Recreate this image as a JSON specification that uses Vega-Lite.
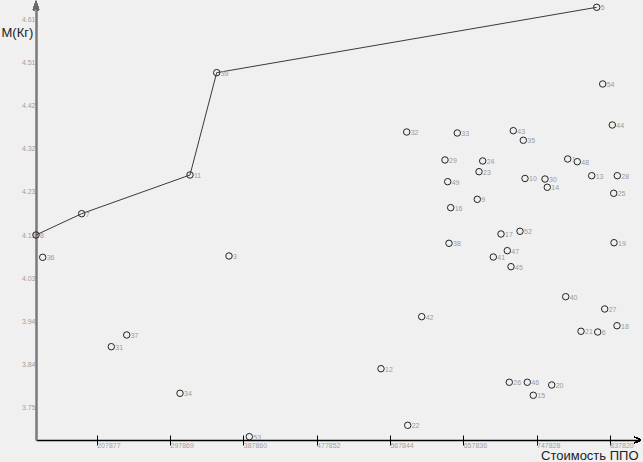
{
  "$schema": "https://vega.github.io/schema/vega-lite/v6.json",
  "width": 604,
  "height": 435,
  "autosize": {"type": "none"},
  "padding": {"left": 36, "top": 5, "right": 3, "bottom": 22},
  "background": "#f0f0f0",
  "config": {"view": {"stroke": null}, "font": "Liberation Sans"},
  "data": {
    "values": [
      {"n": "8", "x": 133356, "y": 4.1327, "p": 1},
      {"n": "7", "x": 189461, "y": 4.1798, "p": 2},
      {"n": "11", "x": 322421, "y": 4.2654, "p": 3},
      {"n": "39", "x": 355201, "y": 4.4917, "p": 4},
      {"n": "5", "x": 821727, "y": 4.6363, "p": 5},
      {"n": "36", "x": 141581, "y": 4.0833, "p": 0},
      {"n": "3", "x": 370302, "y": 4.0862, "p": 0},
      {"n": "37", "x": 244708, "y": 3.9115, "p": 0},
      {"n": "31", "x": 225801, "y": 3.8856, "p": 0},
      {"n": "34", "x": 310144, "y": 3.7825, "p": 0},
      {"n": "53", "x": 395224, "y": 3.6865, "p": 0},
      {"n": "32", "x": 588464, "y": 4.3605, "p": 0},
      {"n": "33", "x": 650586, "y": 4.3583, "p": 0},
      {"n": "43", "x": 719337, "y": 4.3634, "p": 0},
      {"n": "35", "x": 731614, "y": 4.3422, "p": 0},
      {"n": "29", "x": 635485, "y": 4.2986, "p": 0},
      {"n": "24", "x": 681769, "y": 4.2964, "p": 0},
      {"n": "23", "x": 677227, "y": 4.2727, "p": 0},
      {"n": "49", "x": 638800, "y": 4.2506, "p": 0},
      {"n": "10", "x": 733701, "y": 4.2577, "p": 0},
      {"n": "9", "x": 675140, "y": 4.2116, "p": 0},
      {"n": "16", "x": 642483, "y": 4.1931, "p": 0},
      {"n": "17", "x": 704236, "y": 4.1349, "p": 0},
      {"n": "52", "x": 727562, "y": 4.1409, "p": 0},
      {"n": "38", "x": 640396, "y": 4.1143, "p": 0},
      {"n": "47", "x": 711971, "y": 4.098, "p": 0},
      {"n": "41", "x": 694783, "y": 4.084, "p": 0},
      {"n": "45", "x": 716513, "y": 4.0626, "p": 0},
      {"n": "54", "x": 829093, "y": 4.4667, "p": 0},
      {"n": "44", "x": 840879, "y": 4.376, "p": 0},
      {"n": "1", "x": 786124, "y": 4.3008, "p": 0},
      {"n": "48", "x": 797910, "y": 4.2948, "p": 0},
      {"n": "30", "x": 758255, "y": 4.2565, "p": 0},
      {"n": "14", "x": 761079, "y": 4.2382, "p": 0},
      {"n": "13", "x": 815589, "y": 4.2638, "p": 0},
      {"n": "28", "x": 847018, "y": 4.2638, "p": 0},
      {"n": "25", "x": 842598, "y": 4.2249, "p": 0},
      {"n": "19", "x": 842966, "y": 4.1156, "p": 0},
      {"n": "40", "x": 783668, "y": 3.9962, "p": 0},
      {"n": "27", "x": 831549, "y": 3.969, "p": 0},
      {"n": "18", "x": 846649, "y": 3.932, "p": 0},
      {"n": "21", "x": 802452, "y": 3.9197, "p": 0},
      {"n": "6", "x": 822955, "y": 3.9181, "p": 0},
      {"n": "42", "x": 606880, "y": 3.952, "p": 0},
      {"n": "12", "x": 556912, "y": 3.8369, "p": 0},
      {"n": "26", "x": 714426, "y": 3.8069, "p": 0},
      {"n": "46", "x": 736525, "y": 3.8069, "p": 0},
      {"n": "20", "x": 766481, "y": 3.8009, "p": 0},
      {"n": "15", "x": 743891, "y": 3.7781, "p": 0},
      {"n": "22", "x": 589692, "y": 3.7117, "p": 0}
    ]
  },
  "layer": [
    {
      "mark": {"type": "point", "filled": false, "stroke": "#222222", "strokeWidth": 1, "size": 42, "opacity": 1},
      "encoding": {
        "x": {
          "field": "x", "type": "quantitative",
          "scale": {"domain": [133357, 874887], "zero": false, "nice": false},
          "axis": {
            "title": "Стоимость ППО",
            "titleFontSize": 13, "titleFontWeight": "normal", "titleColor": "#222222",
            "titleX": 602, "titleY": 19, "titleAlign": "right", "titleBaseline": "alphabetic", "titleAnchor": null,
            "values": [207877, 297869, 387860, 477852, 567844, 657836, 747828, 837820],
            "format": "d",
            "domainColor": "#000000", "domainWidth": 1.5,
            "tickColor": "#000000", "tickSize": 5, "tickWidth": 1,
            "grid": true, "gridColor": "#000000", "gridWidth": 1, "gridDash": [0, 430, 5, 2000],
            "labelFontSize": 7, "labelColor": "#a0a0a0", "labelAlign": "left", "labelBaseline": "middle",
            "labelPadding": 0, "labelDx": 3, "labelFlush": false, "labelOverlap": false
          }
        },
        "y": {
          "field": "y", "type": "quantitative",
          "scale": {"domain": [3.6792, 4.6414], "zero": false, "nice": false},
          "axis": {
            "title": "M(Кг)",
            "titleFontSize": 13, "titleFontWeight": "normal", "titleColor": "#222222",
            "titleAngle": 0, "titleX": -35, "titleY": 31, "titleAlign": "left", "titleBaseline": "alphabetic", "titleAnchor": null,
            "values": [3.75, 3.84556, 3.94111, 4.03667, 4.13222, 4.22778, 4.32333, 4.41889, 4.51444, 4.61],
            "labelExpr": "['3.75','3.84','3.94','4.03','4.13','4.23','4.32','4.42','4.51','4.61'][round((datum.value-3.75)/0.09556)]",
            "domainColor": "#7a7a7a", "domainWidth": 2.5,
            "ticks": false, "grid": false,
            "labelFontSize": 7, "labelColor": "#a0a0a0", "labelPadding": 1, "labelBaseline": "middle", "labelFlush": false, "labelOverlap": false
          }
        }
      }
    },
    {
      "transform": [{"filter": "datum.p > 0"}],
      "mark": {"type": "line", "color": "#3a3a3a", "strokeWidth": 1},
      "encoding": {
        "x": {"field": "x", "type": "quantitative"},
        "y": {"field": "y", "type": "quantitative"},
        "order": {"field": "p", "type": "quantitative"}
      }
    },
    {
      "mark": {"type": "text", "align": "left", "baseline": "middle", "dx": 4, "dy": 1, "fontSize": 7, "color": "#9a9a9a"},
      "encoding": {
        "x": {"field": "x", "type": "quantitative"},
        "y": {"field": "y", "type": "quantitative"},
        "text": {"field": "n"}
      }
    },
    {
      "mark": {"type": "point", "shape": "M-0.6,1.25L0,-0.5L0.6,1.25", "size": 64, "filled": false, "stroke": "#6a6a6a", "strokeWidth": 1.5, "opacity": 1},
      "encoding": {
        "x": {"datum": 133357, "type": "quantitative"},
        "y": {"datum": 4.6414, "type": "quantitative"}
      }
    },
    {
      "mark": {"type": "point", "shape": "M-1.5,-0.8L0.2,0L-1.5,0.8", "size": 64, "filled": false, "stroke": "#000000", "strokeWidth": 1, "opacity": 1},
      "encoding": {
        "x": {"datum": 874887, "type": "quantitative"},
        "y": {"datum": 3.6792, "type": "quantitative"}
      }
    }
  ]
}
